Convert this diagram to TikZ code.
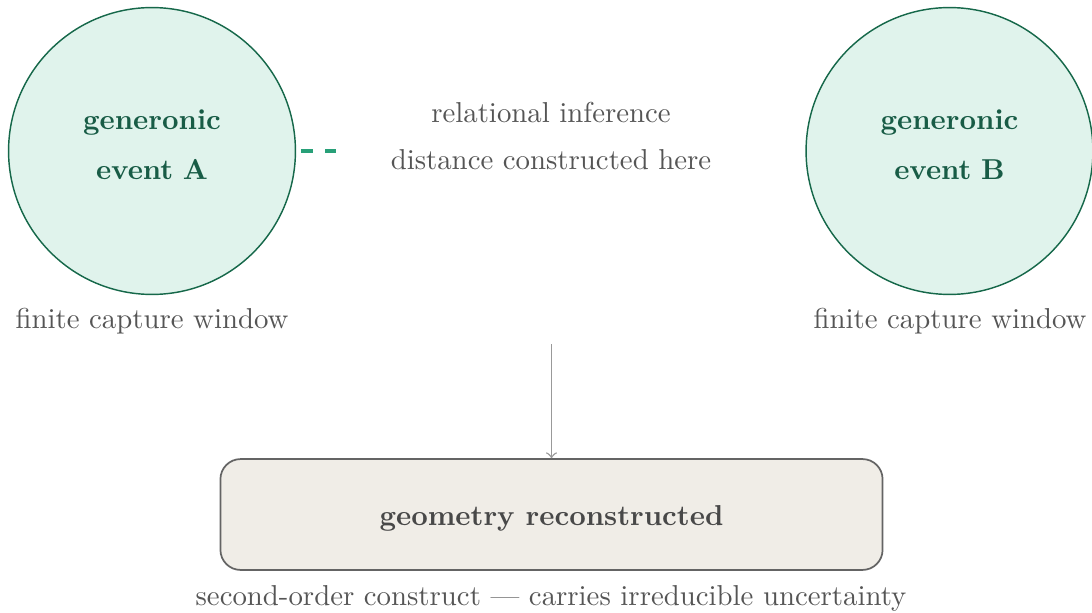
\documentclass[tikz,border=0pt]{standalone}
\usepackage{tikz}
\usetikzlibrary{positioning}
\definecolor{evfill}{RGB}{224,243,236}
\definecolor{evline}{RGB}{22,104,74}
\definecolor{evtext}{RGB}{24,92,70}
\definecolor{dashgreen}{RGB}{40,160,120}
\definecolor{geofill}{RGB}{240,237,231}
\definecolor{geoline}{RGB}{100,100,100}
\definecolor{note}{RGB}{85,85,85}

\newcommand{\evlabel}[1]{\raisebox{-1.3pt}[0pt][0pt]{\begin{tabular}{@{}c@{}}generonic\\[5.3pt] event\,\,#1\end{tabular}}}

\tikzset{
  event/.style={circle,draw=evline,fill=evfill,line width=0.5pt,
    minimum size=99.6pt,inner sep=0pt,align=center,text=evtext,
    font=\bfseries},
  caption/.style={text=note,align=center},
  geobox/.style={draw=geoline,fill=geofill,rounded corners=7pt,line width=0.6pt,
    minimum width=229.9pt,minimum height=38.5pt,text=note!85!black,font=\bfseries,
    text height=9.8pt,text depth=1.94pt}
}

\begin{document}
\begin{tikzpicture}[x=0.3472pt,y=-0.3472pt]
    \useasboundingbox (0,0) rectangle (1092,612);
    \node[event] (evA) at (152,151) {\evlabel{A}};
    \node[event] (evB) at (949.5,151) {\evlabel{B}};
    \node[caption] (winA) at (152,321) {finite capture window};
    \node[caption] (winB) at (950,321) {finite capture window};
    \node[caption] (rel) at (551,136) {relational inference\\[4pt] distance constructed here};
    \coordinate (dashend) at (336,151);
    \draw[dashgreen,line width=1.1pt,dash pattern=on 4.3pt off 4.2pt,shorten <=1.6pt] (evA.east) -- (dashend);
    \node[geobox] (geo) at (551.5,514.5) {geometry reconstructed};
    \node[caption] (second) at (551,598) {second-order construct --- carries irreducible uncertainty};
    \coordinate (arrowstart) at (551.5,344);
    \draw[->,gray!80,line width=0.5pt] (arrowstart) -- (geo.north);
    %\draw[->] (evA) -- (evB);
\end{tikzpicture}
\end{document}
